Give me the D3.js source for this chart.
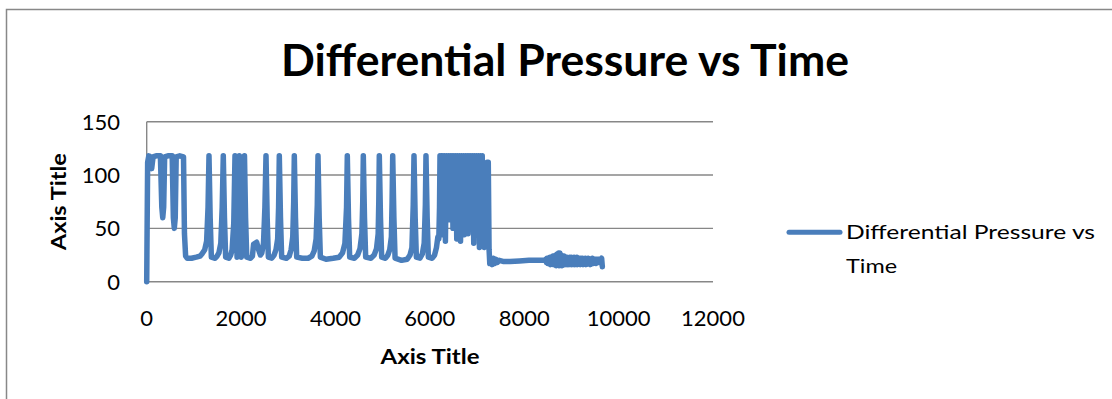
<!DOCTYPE html>
<html>
<head>
<meta charset="utf-8">
<script src="https://cdn.jsdelivr.net/npm/d3@7"></script>
<style>
  html, body { margin: 0; padding: 0; background: #fff; }
  svg { display: block; }
  text { font-family: Lato, "Open Sans", "DejaVu Sans", sans-serif; fill: #000; }
</style>
</head>
<body>
<svg id="chart" width="1112" height="399"></svg>
<script>
// ---------- data ----------
const chartTitle = "Differential Pressure vs Time";
const seriesName = "Differential Pressure vs Time";
const xAxisTitle = "Axis Title";
const yAxisTitle = "Axis Title";
const xTicks = [0, 2000, 4000, 6000, 8000, 10000, 12000];
const yTicks = [0, 50, 100, 150];

// [time, differential pressure] readings
const readings = [
  [0,0],[20,112],[45,118],[80,117],[105,106],[135,117],[200,118],[290,118],[320,70],[340,60],[360,70],[380,117],
  [450,118],[540,118],[565,60],[585,50],[605,60],[625,117],[700,118],[780,117],[800,45],[825,24],[860,22],
  [950,22],[1050,23],[1130,24],
  [1170,26],[1230,30],[1270,38],[1300,70],[1320,118],[1345,60],[1370,23],[1450,22],[1490,24],
  [1530,27],[1570,36],[1600,70],[1623,118],[1648,60],[1673,23],[1740,22],[1780,25],
  [1810,30],[1845,55],[1871,118],[1895,60],[1915,23],[1930,35],[1948,70],
  [1962,118],[1985,60],[2005,23],[2025,30],[2050,65],
  [2072,118],[2095,60],[2120,23],[2200,22],[2240,24],[2265,35],[2330,37],[2370,30],[2410,25],[2440,27],[2475,36],[2505,70],
  [2528,118],[2553,60],[2578,23],[2650,22],[2700,25],[2740,30],[2775,40],[2795,70],
  [2810,118],[2835,60],[2860,23],[2960,22],[3020,24],[3060,30],[3095,42],[3115,75],
  [3128,118],[3153,60],[3178,23],[3300,22],[3420,22],[3500,24],[3550,29],[3590,40],[3615,72],
  [3630,118],[3655,60],[3680,23],[3800,21],[3950,22],[4080,23],[4150,27],[4200,36],[4235,70],
  [4251,118],[4276,60],[4301,23],[4400,22],[4470,25],[4520,31],[4560,45],[4578,75],
  [4590,118],[4615,60],[4640,23],[4750,22],[4820,25],[4870,31],[4905,45],[4918,75],
  [4929,118],[4954,60],[4979,23],[5060,22],[5110,25],[5150,30],[5185,42],[5200,75],
  [5213,118],[5238,60],[5263,22],[5400,20],[5520,21],[5580,25],[5620,32],[5648,72],
  [5664,118],[5689,60],[5714,23],[5790,22],[5840,26],[5880,36],[5905,72],
  [5918,118],[5943,60],[5968,23],[6050,22],[6100,25],[6140,32],[6170,42],[6190,40],[6205,70],
  [6215,118],[6235,60],[6255,44],[6275,118],[6295,62],[6310,118],[6330,38],[6350,118],[6370,60],[6390,118],
  [6410,58],[6430,118],[6450,60],[6470,118],[6490,50],[6510,118],[6530,62],[6550,118],[6570,40],[6590,118],
  [6610,60],[6630,118],[6650,38],[6670,118],[6690,58],[6710,118],[6730,44],[6750,118],[6770,60],[6790,118],
  [6810,45],[6830,118],[6850,60],[6870,118],[6890,56],[6910,118],[6930,36],[6950,118],[6970,60],[6990,118],
  [7010,56],[7030,118],[7050,32],[7070,118],[7090,50],[7110,118],[7130,40],[7155,32],[7180,36],
  [7200,60],[7215,112],[7238,112],[7255,30],[7270,17],[7300,22],[7320,16],[7345,22],[7370,17],[7400,21],
  [7430,18],[7470,20],[7550,19],[7700,19],[7900,19.5],[8100,20],[8300,20],[8440,20],
  [8455,21],[8470,18],[8485,22],[8500,17],[8515,22],[8530,17],[8545,23],[8560,16],[8575,23],[8590,17],
  [8605,24],[8620,16],[8635,24],[8650,17],[8665,25],[8680,15],[8695,26],[8710,16],[8725,27],[8740,15],
  [8755,27],[8770,16],[8785,25],[8800,15],[8815,24],[8830,16],[8845,24],[8860,16],[8875,23],[8890,16],
  [8905,23],[8920,16],[8935,22],[8950,16],[8965,23],[8980,17],[8995,23],[9010,16],[9025,22],[9040,17],
  [9055,23],[9070,16],[9085,22],[9100,17],[9115,23],[9130,16],[9145,22],[9160,17],[9175,22],[9190,16],
  [9205,22],[9220,17],[9235,22],[9250,16],[9265,21],[9280,17],[9295,22],[9310,16],[9325,21],[9340,17],
  [9355,22],[9370,17],[9385,21],[9400,16],[9415,21],[9430,17],[9445,22],[9460,17],[9475,21],[9490,18],
  [9505,21],[9520,17],[9535,21],[9550,18],[9565,21],[9580,18],[9595,21],[9610,18],[9625,21],[9640,22],[9655,14]
];

// ---------- drawing ----------
const svg = d3.select("#chart");
const lineColor = "#4a7ebb";
const gridColor = "#878787";

// chart frame
svg.append("rect")
  .attr("x", 6.5).attr("y", 9.5)
  .attr("width", 1200).attr("height", 500)
  .attr("fill", "#fff").attr("stroke", "#888").attr("stroke-width", 1.5);

const x = d3.scaleLinear().domain([0, 12000]).range([146.7, 713]);
const y = d3.scaleLinear().domain([0, 150]).range([281.7, 121.7]);

// gridlines
svg.append("g").selectAll("line").data(yTicks).join("line")
  .attr("x1", x(0)).attr("x2", x(12000))
  .attr("y1", d => y(d)).attr("y2", d => y(d))
  .attr("stroke", gridColor).attr("stroke-width", 1.4);

// y axis line
svg.append("line")
  .attr("x1", x(0)).attr("x2", x(0))
  .attr("y1", y(0)).attr("y2", y(150))
  .attr("stroke", gridColor).attr("stroke-width", 1.4);

// y tick labels
svg.append("g").selectAll("text").data(yTicks).join("text")
  .attr("x", 120).attr("y", d => y(d)).attr("dy", "0.36em")
  .attr("text-anchor", "end").attr("font-size", 22)
  .text(d => d);

// x tick labels
svg.append("g").selectAll("text").data(xTicks).join("text")
  .attr("x", d => x(d)).attr("y", 326)
  .attr("text-anchor", "middle").attr("font-size", 22)
  .text(d => d);

// title
svg.append("text")
  .attr("x", 565).attr("y", 76)
  .attr("text-anchor", "middle")
  .attr("font-size", 43).attr("font-weight", "bold")
  .attr("textLength", 568).attr("lengthAdjust", "spacingAndGlyphs")
  .text(chartTitle);

// axis titles
svg.append("text")
  .attr("x", 430).attr("y", 363.5)
  .attr("text-anchor", "middle")
  .attr("font-size", 21).attr("font-weight", "bold")
  .attr("textLength", 99).attr("lengthAdjust", "spacingAndGlyphs")
  .text(xAxisTitle);

svg.append("text")
  .attr("transform", `translate(65.5, ${(y(0) + y(150)) / 2}) rotate(-90)`)
  .attr("text-anchor", "middle")
  .attr("font-size", 21).attr("font-weight", "bold")
  .attr("textLength", 97).attr("lengthAdjust", "spacingAndGlyphs")
  .text(yAxisTitle);

// series line
const line = d3.line().x(d => x(d[0])).y(d => y(d[1]));
svg.append("path")
  .datum(readings)
  .attr("d", line)
  .attr("fill", "none")
  .attr("stroke", lineColor)
  .attr("stroke-width", 5.5)
  .attr("stroke-linejoin", "round")
  .attr("stroke-linecap", "round");

// legend
svg.append("line")
  .attr("x1", 789).attr("x2", 840)
  .attr("y1", 232.3).attr("y2", 232.3)
  .attr("stroke", lineColor).attr("stroke-width", 5)
  .attr("stroke-linecap", "round");

const words = seriesName.split(" ");
const legendLines = [words.slice(0, 3).join(" "), words.slice(3).join(" ")];
const legendWidths = [249, 51];
svg.append("g").selectAll("text").data(legendLines).join("text")
  .attr("x", 846).attr("y", (d, i) => 239 + i * 34)
  .attr("font-size", 20)
  .attr("textLength", (d, i) => legendWidths[i]).attr("lengthAdjust", "spacingAndGlyphs")
  .text(d => d);
</script>
</body>
</html>
